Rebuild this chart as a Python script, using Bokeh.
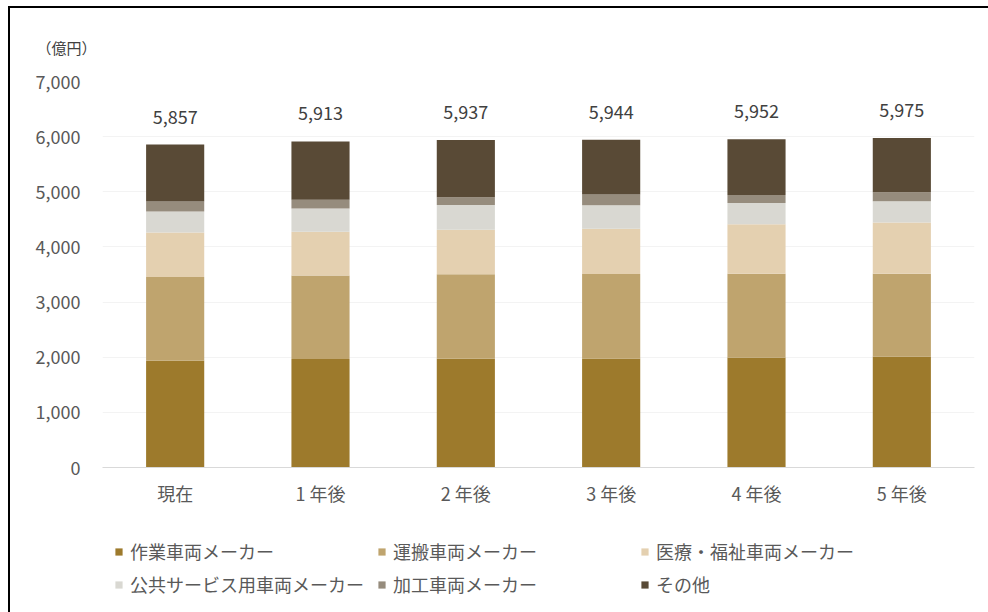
from bokeh.plotting import figure
from bokeh.layouts import column
from bokeh.models import (ColumnDataSource, FactorRange, Legend, LegendItem,
                          NumeralTickFormatter, FixedTicker)
from bokeh.core.properties import value
from bokeh.embed import file_html
from bokeh.resources import INLINE

categories = ["現在", "1 年後", "2 年後", "3 年後", "4 年後", "5 年後"]
series_names = ["作業車両メーカー", "運搬車両メーカー", "医療・福祉車両メーカー",
                "公共サービス用車両メーカー", "加工車両メーカー", "その他"]
sagyo = [1936, 1967, 1973, 1975, 1996, 2015]
unpan = [1517, 1517, 1530, 1535, 1519, 1500]
iryo = [807, 789, 807, 820, 898, 929]
kokyo = [382, 426, 450, 425, 383, 383]
kako = [182, 157, 140, 195, 146, 164]
sonota = [1033, 1057, 1037, 994, 1010, 984]
totals = [5857, 5913, 5937, 5944, 5952, 5975]
total_labels = ["5,857", "5,913", "5,937", "5,944", "5,952", "5,975"]
y_ticks = [0, 1000, 2000, 3000, 4000, 5000, 6000, 7000]
unit_label = "（億円）"
colors = ["#9D7A2C", "#BFA46E", "#E4D0B0", "#D9D8D2", "#968C7D", "#594A36"]

FONT = "Noto Sans CJK JP"
keys = ["s0", "s1", "s2", "s3", "s4", "s5"]
data = dict(cat=categories, total=totals, lab=total_labels)
for k, arr in zip(keys, [sagyo, unpan, iryo, kokyo, kako, sonota]):
    data[k] = arr
source = ColumnDataSource(data)

p = figure(x_range=FactorRange(factors=categories, range_padding=0),
           y_range=(0, 7000), width=978, height=512,
           output_backend="svg", toolbar_location=None,
           min_border_left=92, min_border_right=14, min_border_top=73,
           min_border_bottom=53)
p.outline_line_color = None
p.background_fill_color = "white"
p.border_fill_color = "white"

p.title.text = unit_label
p.title.align = "left"
p.title.offset = -66
p.title.standoff = 47
p.title.text_font = FONT
p.title.text_font_size = "15px"
p.title.text_font_style = "normal"
p.title.text_color = "#404040"

renderers = p.vbar_stack(keys, x="cat", width=0.4, color=colors, source=source,
                         line_color=None)

p.text(x="cat", y="total", text="lab", source=source, y_offset=-28,
       text_align="center", text_baseline="middle",
       text_font=value(FONT), text_font_size="18px", text_color="#404040")

p.yaxis.ticker = FixedTicker(ticks=y_ticks)
p.yaxis.formatter = NumeralTickFormatter(format="0,0")
for ax in (p.xaxis, p.yaxis):
    ax.major_tick_line_color = None
    ax.minor_tick_line_color = None
    ax.major_tick_out = 0
    ax.major_tick_in = 0
    ax.minor_tick_out = 0
    ax.major_label_text_font = FONT
    ax.major_label_text_font_size = "18px"
    ax.major_label_text_color = "#595959"
p.yaxis.axis_line_color = None
p.yaxis.major_label_standoff = 22
p.xaxis.axis_line_color = "#D9D9D9"
p.xaxis.axis_line_width = 1
p.xaxis.major_label_standoff = 12

p.xgrid.grid_line_color = None
p.ygrid.grid_line_color = "#F3F3F3"

# legend strip below the chart (row-major order: 3 columns x 2 rows)
p2 = figure(x_range=(0, 1), y_range=(0, 1), width=978, height=92,
            output_backend="svg", toolbar_location=None,
            x_axis_location=None, y_axis_location=None,
            min_border=0, min_border_left=0, min_border_right=0,
            min_border_top=0, min_border_bottom=0)
p2.outline_line_color = None
p2.grid.grid_line_color = None
p2.border_fill_color = "white"
p2.background_fill_color = "white"
leg_src = ColumnDataSource(dict(x=[0.5], top=[0]))
leg_renderers = [p2.vbar(x="x", top="top", width=0, source=leg_src, color=c,
                         line_color=None) for c in colors]
order = [0, 3, 1, 4, 2, 5]
items = [LegendItem(label=series_names[i], renderers=[leg_renderers[i]]) for i in order]
legend = Legend(items=items, ncols=3, location=(12, 15),
                label_text_font=FONT, label_text_font_size="18px",
                label_text_color="#595959", glyph_width=9, glyph_height=9,
                label_standoff=7, label_width=240, label_height=24, spacing=7,
                padding=10, margin=0, border_line_color=None,
                background_fill_alpha=0)
p2.add_layout(legend, "center")

layout = column(p, p2, spacing=0,
                styles={"margin-left": "8px", "margin-top": "6px",
                        "border-top": "2px solid #000000",
                        "border-left": "2px solid #000000"})

open("out.html", "w").write(file_html(layout, INLINE))
